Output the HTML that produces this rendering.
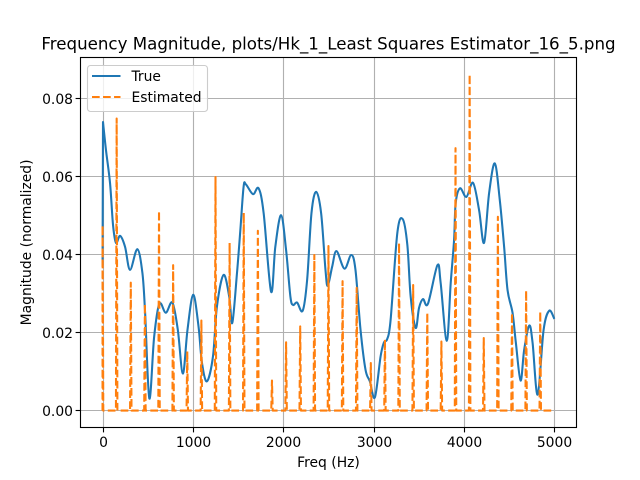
<!DOCTYPE html>
<html>
<head>
<meta charset="utf-8">
<style>
html,body{margin:0;padding:0;background:#fff;}
svg{display:block;}
text{font-family:"DejaVu Sans","Liberation Sans",sans-serif;fill:#000;}
</style>
</head>
<body>
<svg id="chart" xmlns="http://www.w3.org/2000/svg" width="640" height="480" viewBox="0 0 640 480">
  <rect x="0" y="0" width="640" height="480" fill="#fff"/>
  <defs><clipPath id="plot-clip"><rect x="80" y="57.6" width="496" height="369.6"/></clipPath></defs>
  <g id="grid"></g>
  <g id="series" clip-path="url(#plot-clip)"></g>
  <rect x="80.5" y="57.5" width="496" height="370" fill="none" stroke="#000" stroke-width="1.11"/>
  <g id="ticks"></g>
  <text x="328.5" y="49.5" font-size="16.67" text-anchor="middle">Frequency Magnitude, plots/Hk_1_Least Squares Estimator_16_5.png</text>
  <text x="328.5" y="467" font-size="13.89" text-anchor="middle">Freq (Hz)</text>
  <text transform="translate(31 242.4) rotate(-90)" font-size="13.89" text-anchor="middle">Magnitude (normalized)</text>
  <g>
    <rect x="87.5" y="65.5" width="120" height="46" rx="3" ry="3" fill="#fff" fill-opacity="0.8" stroke="#ccc" stroke-width="1.11"/>
    <line x1="92" y1="76" x2="120.5" y2="76" stroke="#1f77b4" stroke-width="2.08"/>
    <text x="131.5" y="81" font-size="13.89">True</text>
    <line x1="92" y1="97" x2="120.5" y2="97" stroke="#ff7f0e" stroke-width="2.08" stroke-dasharray="7.7 3.33"/>
    <text x="131.5" y="102" font-size="13.89">Estimated</text>
  </g>
</svg>
<script>
const xTickValues = [0, 1000, 2000, 3000, 4000, 5000];
const yTickValues = [0, 0.02, 0.04, 0.06, 0.08];
const yTickLabels = ["0.00", "0.02", "0.04", "0.06", "0.08"];

const trueFreq = [0,5,38,83,116,149,194,249,304,385,441,471,518,571,629,700,773,833,889,940,1003,1062,1100,1155,1222,1266,1339,1402,1436,1488,1525,1561,1587,1665,1727,1783,1865,1912,1976,2031,2079,2109,2153,2215,2264,2312,2364,2419,2467,2492,2541,2589,2677,2752,2799,2855,2910,2958,3014,3077,3113,3151,3188,3262,3321,3373,3410,3465,3502,3546,3601,3706,3742,3809,3853,3890,3908,3956,4027,4100,4167,4222,4278,4341,4396,4444,4482,4537,4574,4626,4666,4722,4759,4815,4881,4943,5000];
const trueMag = [.0373,.0740,.0668,.0583,.0476,.0430,.0448,.0420,.0361,.0414,.0353,.0251,.0031,.0189,.0274,.0251,.0277,.0207,.0095,.0207,.0297,.0216,.0123,.0075,.0139,.0267,.0348,.0292,.0225,.0353,.0463,.0574,.0580,.0555,.0570,.0506,.0305,.0420,.0501,.0412,.0292,.0271,.0277,.0256,.0335,.0506,.0561,.0506,.0361,.0320,.0369,.0409,.0364,.0399,.0361,.0207,.0105,.0075,.0034,.0139,.0174,.0184,.0233,.0455,.0491,.0425,.0292,.0212,.0263,.0286,.0274,.0373,.0327,.0179,.0327,.0437,.0532,.0570,.0548,.0584,.0514,.0430,.0558,.0634,.0540,.0420,.0309,.0251,.0174,.0077,.0156,.0218,.0174,.0041,.0207,.0256,.0235];

const spikeBinHz = 156.25;
const estimatedMag = [.0475,.0749,.0328,.0274,.0512,.0373,.0152,.0231,.0599,.0430,.0507,.0461,.0077,.0175,.0216,.0399,.0422,.0332,.0315,.0122,.0182,.0430,.0322,.0251,.0177,.0673,.0862,.0186,.0497,.0250,.0308,.0254];
const freqEnd = 5000;
const spikeHalfWidthHz = 8;

const SVGNS = "http://www.w3.org/2000/svg";
const X = f => 80 + (f + 249.5) / 5489 * 496;
const Y = m => 410.6 - m * 3900;
const snapX = x => Math.floor(x + 0.5) + 0.5;
const snapY = y => Math.floor(y) + 0.5;

const gridG = document.getElementById('grid');
const ticksG = document.getElementById('ticks');
const seriesG = document.getElementById('series');

function mk(tag, parent, attrs) {
  const e = document.createElementNS(SVGNS, tag);
  for (const k in attrs) e.setAttribute(k, attrs[k]);
  parent.appendChild(e);
  return e;
}

xTickValues.forEach(v => {
  const x = snapX(X(v));
  const g = mk('line', gridG, {x1: x, x2: x, y1: 57.6, y2: 427.2, stroke: '#b0b0b0', 'stroke-width': 1.11});
  
  
  const t = mk('line', ticksG, {x1: x, x2: x, y1: 427.5, y2: 432.4, stroke: '#000', 'stroke-width': 1.11});
  
  
  const l = mk('text', ticksG, {x: x, y: 447, 'font-size': 13.89, 'text-anchor': 'middle'});
  
  
  l.textContent = String(v);
});

yTickValues.forEach((v, i) => {
  const y = snapY(Y(v));
  const g = mk('line', gridG, {x1: 80, x2: 576, y1: y, y2: y, stroke: '#b0b0b0', 'stroke-width': 1.11});
  
  
  const t = mk('line', ticksG, {x1: 75.6, x2: 80.5, y1: y, y2: y, stroke: '#000', 'stroke-width': 1.11});
  
  
  const l = mk('text', ticksG, {x: 73, y: y + 5.5, 'font-size': 13.89, 'text-anchor': 'end'});
  
  
  l.textContent = yTickLabels[i];
});

function smoothPath(fs, ms) {
  const p = fs.map((f, i) => [X(f), Y(ms[i])]);
  let d = 'M' + p[0][0].toFixed(2) + ' ' + p[0][1].toFixed(2) + 'L' + p[1][0].toFixed(2) + ' ' + p[1][1].toFixed(2);
  for (let i = 1; i < p.length - 1; i++) {
    const p0 = i > 1 ? p[i - 1] : p[i];
    const p1 = p[i], p2 = p[i + 1];
    const p3 = p[i + 2] || p2;
    const c1x = p1[0] + (p2[0] - p0[0]) / 6, c1y = p1[1] + (p2[1] - p0[1]) / 6;
    const c2x = p2[0] - (p3[0] - p1[0]) / 6, c2y = p2[1] - (p3[1] - p1[1]) / 6;
    d += 'C' + c1x.toFixed(2) + ' ' + c1y.toFixed(2) + ' ' + c2x.toFixed(2) + ' ' + c2y.toFixed(2) + ' ' + p2[0].toFixed(2) + ' ' + p2[1].toFixed(2);
  }
  return d;
}

const trueLine = mk('path', seriesG, {d: smoothPath(trueFreq, trueMag), fill: 'none', stroke: '#1f77b4', 'stroke-width': 2.08, 'stroke-linejoin': 'round'});



let est = 'M' + X(0).toFixed(2) + ' ' + Y(0).toFixed(2);
estimatedMag.forEach((m, k) => {
  const c = k * spikeBinHz;
  if (k > 0) est += 'L' + X(c - spikeHalfWidthHz).toFixed(2) + ' ' + Y(0).toFixed(2);
  est += 'L' + X(c).toFixed(2) + ' ' + Y(m).toFixed(2);
  est += 'L' + X(c + spikeHalfWidthHz).toFixed(2) + ' ' + Y(0).toFixed(2);
});
est += 'L' + X(freqEnd).toFixed(2) + ' ' + Y(0).toFixed(2);
const estLine = mk('path', seriesG, {d: est, fill: 'none', stroke: '#ff7f0e', 'stroke-width': 2.08, 'stroke-dasharray': '7.7 3.33', 'stroke-linejoin': 'round'});


</script>
</body>
</html>
